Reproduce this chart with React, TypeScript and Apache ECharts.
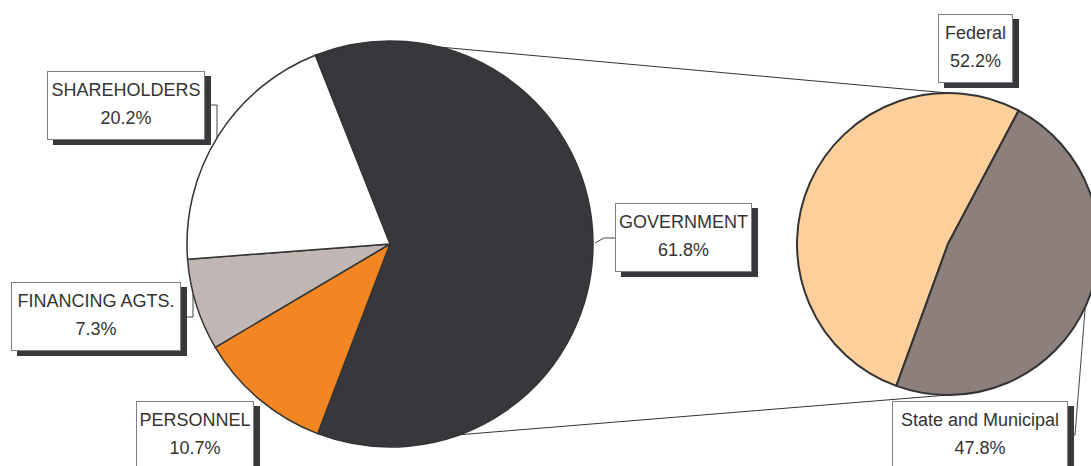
import React, { useEffect, useRef } from 'react';
import * as echarts from 'echarts';

// ---- data ----
const mainCategories = ['GOVERNMENT', 'PERSONNEL', 'FINANCING AGTS.', 'SHAREHOLDERS'];
const mainValues = [61.8, 10.7, 7.3, 20.2];
const subCategories = ['Federal', 'State and Municipal'];
const subValues = [52.2, 47.8];

// ---- styles / layout ----
const mainColors = ['#38373c', '#f28622', '#c0b7b4', '#ffffff'];
const subColors = ['#fdd09b', '#8d807c'];

const MAIN = { cx: 390, cy: 244, r: 203 };
const SUB = { cx: 948, cy: 244, r: 151 };

// label boxes: [left, top, width]
const mainLabelBoxes = [[616, 204, 135], [137, 402, 116], [12, 283, 168], [48, 72, 156]];
const mainLeaders: (number[][] | null)[] = [
  [[595, 243], [604, 238], [616, 238]],
  null,
  [[193, 294], [193, 317], [180, 317]],
  [[217, 138], [217, 105], [204, 105]],
];
const subLabelBoxes = [[939, 15, 73], [893, 402, 174]];
const subLeaders: (number[][] | null)[] = [null, [[1086, 298], [1075, 435], [1067, 435]]];

function onCircle(c: { cx: number; cy: number; r: number }, deg: number) {
  const a = (deg * Math.PI) / 180;
  return [c.cx + c.r * Math.sin(a), c.cy - c.r * Math.cos(a)];
}

const labelBase = {
  show: true,
  position: 'outside',
  formatter: (p: any) => `${p.name}\n${Number(p.value).toFixed(1)}%`,
  color: '#333',
  fontFamily: 'Liberation Sans',
  fontSize: 18,
  lineHeight: 28,
  align: 'center',
  backgroundColor: '#ffffff',
  borderColor: '#808080',
  borderWidth: 1,
  padding: [4, 0, 7, 0],
  shadowColor: '#38373c',
  shadowBlur: 0,
  shadowOffsetX: 6,
  shadowOffsetY: 5,
};

export default function App() {
  const ref = useRef<HTMLDivElement>(null);
  useEffect(() => {
    if (!ref.current) return;
    const chart = echarts.init(ref.current, undefined, { renderer: 'svg' });

    const t1 = onCircle(MAIN, 14);
    const t2 = onCircle(SUB, 0);
    const b1 = onCircle(MAIN, 160);
    const b2 = onCircle(SUB, 180);

    const mkLayout = (boxes: number[][], leaders: (number[][] | null)[]) => (params: any) => {
      const b = boxes[params.dataIndex];
      const out: any = { x: b[0] + b[2] / 2, y: b[1], align: 'center', verticalAlign: 'top' };
      const l = leaders[params.dataIndex];
      if (l) out.labelLinePoints = l;
      return out;
    };

    chart.setOption({
      animation: false,
      backgroundColor: '#ffffff',
      graphic: [
        {
          type: 'line',
          z: 0,
          silent: true,
          shape: { x1: t1[0], y1: t1[1], x2: t2[0], y2: t2[1] },
          style: { stroke: '#333', lineWidth: 1 },
        },
        {
          type: 'line',
          z: 0,
          silent: true,
          shape: { x1: b1[0], y1: b1[1], x2: b2[0], y2: b2[1] },
          style: { stroke: '#333', lineWidth: 1 },
        },
      ],
      series: [
        {
          type: 'pie',
          silent: true,
          center: [MAIN.cx, MAIN.cy],
          radius: MAIN.r,
          startAngle: 111.6,
          clockwise: true,
          avoidLabelOverlap: false,
          itemStyle: { borderColor: '#333', borderWidth: 1.5 },
          label: labelBase,
          labelLine: { show: true, lineStyle: { color: '#444', width: 1 } },
          labelLayout: mkLayout(mainLabelBoxes, mainLeaders),
          emphasis: { disabled: true },
          data: mainCategories.map((n, i) => ({
            name: n,
            value: mainValues[i],
            itemStyle: { color: mainColors[i] },
            label: { width: mainLabelBoxes[i][2] },
            labelLine: { show: !!mainLeaders[i] },
          })),
        },
        {
          type: 'pie',
          silent: true,
          center: [SUB.cx, SUB.cy],
          radius: SUB.r,
          startAngle: 250,
          clockwise: true,
          avoidLabelOverlap: false,
          itemStyle: { borderColor: '#333', borderWidth: 2 },
          label: labelBase,
          labelLine: { show: true, lineStyle: { color: '#444', width: 1 } },
          labelLayout: mkLayout(subLabelBoxes, subLeaders),
          emphasis: { disabled: true },
          data: subCategories.map((n, i) => ({
            name: n,
            value: subValues[i],
            itemStyle: { color: subColors[i] },
            label: { width: subLabelBoxes[i][2] },
            labelLine: { show: !!subLeaders[i] },
          })),
        },
      ],
    });
    return () => chart.dispose();
  }, []);

  return (
    <div
      ref={ref}
      style={{ position: 'absolute', left: 0, top: 0, width: 1091, height: 466 }}
    />
  );
}
